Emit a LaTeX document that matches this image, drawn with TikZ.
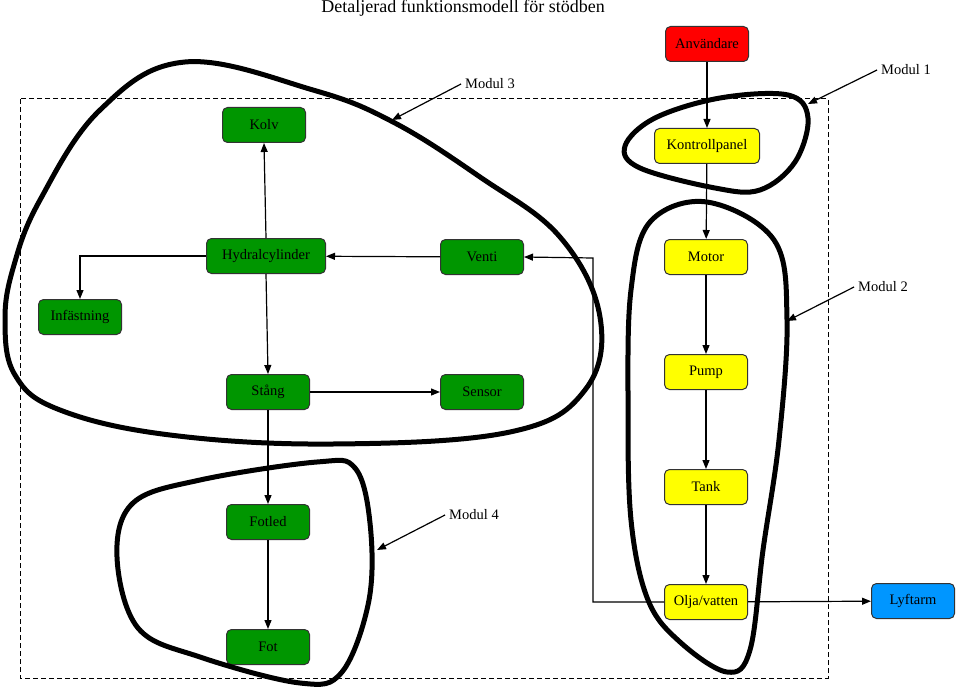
\documentclass[tikz,border=0pt]{standalone}
\usepackage{fontspec}
\setmainfont{Liberation Serif}
\usetikzlibrary{positioning,arrows.meta}

\definecolor{boxgreen}{RGB}{0,150,0}
\definecolor{boxyellow}{RGB}{255,255,0}
\definecolor{boxred}{RGB}{255,0,0}
\definecolor{boxblue}{RGB}{0,150,255}

\begin{document}
\begin{tikzpicture}[
		x=1pt, y=-1pt,
		font=\fontsize{14.5}{17}\selectfont,
		box/.style={draw=black!80, line width=1pt, rounded corners=5pt, minimum width=83pt, minimum height=35pt, inner sep=2pt},
		gbox/.style={box, fill=boxgreen},
		ybox/.style={box, fill=boxyellow},
		arr/.style={-{Triangle[length=9pt,width=7pt]}, line width=1.2pt},
		blob/.style={line width=5pt, line join=round},
		label/.style={inner sep=4pt}
		]
		\useasboundingbox (0,0) rectangle (960,687);

		% title
		\node[font=\fontsize{18}{21}\selectfont] (title) at (463,8) {Detaljerad funktionsmodell för stödben};

		% system border
		\draw[dashed, line width=1pt, dash pattern=on 5pt off 3pt] (20,99) rectangle (828,678);

		% boxes
		\node[box, fill=boxred] (anv) at (707,44) {Användare};
		\node[ybox, minimum width=105pt] (kontroll) at (707,146) {Kontrollpanel};
		\node[ybox] (motor) at (706,257) {Motor};
		\node[ybox] (pump) at (706,372) {Pump};
		\node[ybox] (tank) at (706,487) {Tank};
		\node[ybox] (olja) at (706,602) {Olja/vatten};
		\node[box, fill=boxblue] (lyft) at (913,601) {Lyftarm};

		\node[gbox] (kolv) at (264,125) {Kolv};
		\node[gbox, minimum width=119pt] (hyd) at (266,256) {Hydralcylinder};
		\node[gbox] (venti) at (482,257) {Venti};
		\node[gbox] (inf) at (80,317) {Infästning};
		\node[gbox] (stang) at (268,392) {Stång};
		\node[gbox] (sensor) at (482,392) {Sensor};
		\node[gbox] (fotled) at (268,522) {Fotled};
		\node[gbox] (fot) at (268,647) {Fot};

		\coordinate (retur) at (593,258);

		% connectors
		\draw[arr] (anv) -- (kontroll);
		\draw[arr] (kontroll) -- (motor);
		\draw[arr] (motor) -- (pump);
		\draw[arr] (pump) -- (tank);
		\draw[arr] (tank) -- (olja);
		\draw[arr] (olja) -- (lyft);
		\draw[arr] (olja.west) -| (retur) -- (venti.east);
		\draw[arr] (venti) -- (hyd);
		\draw[arr] (hyd.north) -- (kolv.south);
		\draw[arr] (hyd.west) -| (inf.north);
		\draw[arr] (hyd.south) -- (stang.north);
		\draw[arr] (stang) -- (sensor);
		\draw[arr] (stang) -- (fotled);
		\draw[arr] (fotled) -- (fot);

		% module outlines
		\draw[blob] plot[smooth cycle, tension=0.65] coordinates {
			(185,62) (313,90) (393,122) (480,177) (560,237) (600,317) (585,390)
			(510,432) (333,444) (170,435) (60,410) (15,375) (5,320) (14,265)
			(40,200) (100,110)};
		\draw[blob] plot[smooth cycle, tension=0.6] coordinates {
			(625,146) (655,118) (720,98) (788,95) (808,118) (795,162) (760,190)
			(715,188) (640,168)};
		\draw[blob] plot[smooth cycle, tension=0.6] coordinates {
			(707,202) (650,222) (631,290) (628,400) (631,520) (648,600) (680,642)
			(727,672) (750,650) (763,550) (779,440) (787,320) (774,240)};
		\draw[blob] plot[smooth cycle, tension=0.6] coordinates {
			(317,462) (355,468) (370,523) (369,600) (342,672) (300,683) (200,657)
			(138,628) (117,557) (133,503) (200,480)};

		% module labels
		\node[label] (m1) at (906,70) {Modul 1};
		\node[label] (m2) at (883,287) {Modul 2};
		\node[label] (m3) at (490,84) {Modul 3};
		\node[label] (m4) at (474,515) {Modul 4};
		\coordinate (m1tip) at (808,104);
		\coordinate (m2tip) at (787,321);
		\coordinate (m3tip) at (392,120);
		\coordinate (m4tip) at (377,550);
		\draw[arr] (m1.west) -- (m1tip);
		\draw[arr] (m2.west) -- (m2tip);
		\draw[arr] (m3.west) -- (m3tip);
		\draw[arr] (m4.west) -- (m4tip);
	\end{tikzpicture}
\end{document}
